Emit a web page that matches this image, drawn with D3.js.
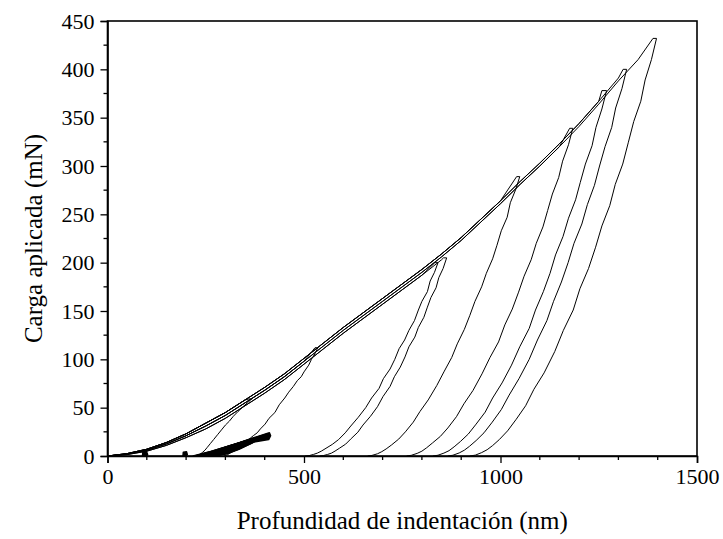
<!DOCTYPE html>
<html>
<head>
<meta charset="utf-8">
<script src="https://cdn.jsdelivr.net/npm/d3@7"></script>
<style>
  html, body { margin: 0; padding: 0; background: #fff; }
  svg { display: block; }
</style>
</head>
<body>
<svg id="chart" width="723" height="539"></svg>
<script>
// Axis ticks
const xMajorTicks = [0, 500, 1000, 1500];
const xMinorTicks = [100, 200, 300, 400, 600, 700, 800, 900, 1100, 1200, 1300, 1400];
const yMajorTicks = [0, 50, 100, 150, 200, 250, 300, 350, 400, 450];
const yMinorTicks = [25, 75, 125, 175, 225, 275, 325, 375, 425];

// Loading envelopes (depth nm -> load mN); individual tests follow one of these
const envDepth  = [0, 50, 100, 150, 200, 250, 300, 350, 400, 450, 500, 550, 600, 650, 700, 750, 800, 850, 900, 950, 1000, 1050, 1100, 1150, 1200, 1250, 1300, 1350, 1400];
const envUpper  = [0, 2.5, 7, 14, 23, 34, 45, 58, 71, 85, 101, 117, 133, 148, 163, 178, 193, 209, 226, 245, 264, 284, 303, 323, 344, 367, 391, 413, 435];
const envMiddle = [0, 2, 6, 12.5, 21, 31, 42, 55, 68, 82, 98, 114, 130, 145, 160, 175, 190, 206, 223, 242, 261, 281, 300, 320, 341, 364, 388, 410, 432];
const envLower  = [0, 1.5, 5, 11, 19, 28, 39, 52, 65, 79, 95, 111, 127, 142, 157, 172, 187, 203, 220, 239, 258, 278, 297, 317, 338, 361, 385, 407, 429];

// Hold at peak load followed by unloading, [depth nm, load mN]
const unloadA = [[360,59],[367,59],[356,55],[345,51],[332,46],[320,41],[310,36],[300,32],[290,27],[280,22],[270,17],[262,13],[254,9],[248,6],[241,3.5],[236,2],[231,0.7],[228,0]];
const unloadB = [[528,112],[535,112],[528,106],[519,100],[512,94],[500,87],[493,82],[483,78],[473,72],[461,66],[451,60],[437,53],[426,45],[411,39],[401,33],[389,28],[381,24],[371,21],[365,19],[354,15],[346,12],[334,8.5],[326,6],[314,3.5],[306,1.5],[296,0]];
const unload1 = [[833,200],[841,200],[832,190],[821,181],[814,170],[800,160],[791,151],[781,140],[767,130],[756,120],[742,111],[731,100],[719,90],[702,80],[691,70],[672,60],[657,50],[638,40],[619,31],[605,24],[588,17],[572,12],[556,8],[544,5],[534,3],[524,1.6],[513,0.4],[503,0]];
const unload2 = [[855,205],[863,205],[854,194],[843,184.5],[836,174],[823,164],[814,154],[805,143.5],[791,133],[782,123],[767,113],[757,102.5],[745,92],[730,82],[719,72],[701,61.5],[687,51],[669,41],[650,32],[637,24.6],[620,18],[606,12.3],[590,8],[579,5.1],[570,3],[560,1.6],[549,0.4],[540,0]];
const unload3 = [[1041,289],[1049,289],[1039,276],[1025,262],[1017,247],[1002,233],[991,218],[980,204],[964,189],[952,175],[935,160],[922,145.5],[908,131],[890,116],[876,102],[856,87],[838,73],[816,58],[795,46],[778,35],[758,25],[741,17.5],[723,11.5],[709,7.3],[698,4.5],[687,2.3],[673,0.6],[662,0]];
const unload4 = [[1176,339],[1184,339],[1173,322],[1158,305],[1148,288],[1132,271],[1120,254],[1108,237],[1091,220],[1078,203],[1060,186],[1046,169.5],[1030,152],[1011,135.6],[995,118],[973,101.7],[953,85],[930,67.8],[907,54],[888,40.7],[866,29],[847,20.3],[827,13.5],[812,8.5],[800,5],[788,2.7],[773,0.7],[761,0]];
const unload5 = [[1258,378],[1270,378],[1258,359],[1243,340],[1233,321],[1216,302],[1203,283],[1191,265],[1173,246],[1159,227],[1140,208],[1126,189],[1109,170],[1089,151],[1073,132],[1049,113],[1028,94],[1004,75.6],[980,60],[961,45.4],[938,33],[918,22.7],[898,15],[882,9.5],[869,5.5],[856,3],[841,0.8],[828,0]];
const unload6 = [[1312,400],[1321,400],[1309,380],[1293,360],[1283,340],[1266,320],[1252,300],[1239,280],[1221,260],[1207,240],[1187,220],[1172,200],[1155,180],[1135,160],[1118,140],[1094,120],[1073,100],[1047,80],[1022,63],[1002,48],[979,35],[958,24],[938,16],[921,10],[908,6],[895,3.2],[879,0.8],[866,0]];
const unload7 = [[1388,432],[1397,432],[1384,410],[1368,389],[1357,367],[1339,346],[1325,324],[1311,302],[1292,281],[1278,259],[1258,238],[1242,216],[1224,194],[1202,173],[1185,151],[1160,130],[1138,108],[1111,86],[1085,69],[1064,52],[1040,38],[1018,26],[997,17],[980,10.8],[966,6.5],[952,3.5],[936,0.9],[922,0]];

// Which loading envelope each test followed
const testEnvelopes = ["upper", "middle", "lower", "lower", "upper", "middle", "upper", "upper", "middle"];
const testUnloads   = [unloadA, unloadB, unload1, unload2, unload3, unload4, unload5, unload6, unload7];

// Low-load cycles near the surface
const cycle1 = [[218,0],[263,4.6],[308,10],[353,15.2],[398,20],[357,12],[319,6],[286,2],[255,0]];
const cycle2 = [[224,0],[269,4.9],[313,10.8],[358,16.3],[403,21.5],[362,12.9],[325,6.5],[292,2.1],[262,0]];
const cycle3 = [[230,0],[274,5.3],[319,11.5],[363,17.5],[408,23],[367,13.8],[331,6.9],[298,2.3],[268,0]];
const cycle4 = [[236,0],[280,5.5],[324,12],[368,18.2],[412,24],[415,21],[410,17],[372,14.4],[336,7.2],[304,2.4],[274,0]];
const cycle5 = [[222,0],[268,5.1],[313,11],[359,16.7],[405,22],[366,13.2],[330,6.6],[299,2.2],[270,0]];
const tiny1  = [[89,0],[90,4],[99,5],[102,1.5],[99,0]];
const tiny2  = [[192,0],[193,4],[201,4.5],[203,1.5],[200,0]];

const xTitle = "Profundidad de indentación (nm)";
const yTitle = "Carga aplicada (mN)";

const W = 723, H = 539;
const m = { left: 107.5, right: 26, top: 21, bottom: 83 };
const svg = d3.select("#chart");
svg.append("rect").attr("width", W).attr("height", H).attr("fill", "#fff");

const x = d3.scaleLinear().domain([0, 1500]).range([m.left, W - m.right]);
const y = d3.scaleLinear().domain([0, 450]).range([H - m.bottom, m.top]);

const font = "'Liberation Serif', 'Times New Roman', serif";

const line = d3.line().x(d => x(d[0])).y(d => y(d[1]));
const loop = d3.line().x(d => x(d[0])).y(d => y(d[1])).curve(d3.curveLinearClosed);
const plot = svg.append("g");

const envByName = { upper: envUpper, middle: envMiddle, lower: envLower };

testUnloads.forEach((unload, i) => {
  const env = envByName[testEnvelopes[i]];
  const holdStart = unload[0][0];
  const pts = [];
  envDepth.forEach((h, j) => { if (h < holdStart) pts.push([h, env[j]]); });
  unload.forEach(p => pts.push(p));
  plot.append("path")
    .attr("d", line(pts))
    .attr("fill", "none")
    .attr("stroke", "#000")
    .attr("stroke-width", 1)
    .attr("stroke-linejoin", "round");
});

[cycle1, cycle2, cycle3, cycle4, cycle5, tiny1, tiny2].forEach(c => {
  plot.append("path")
    .attr("d", loop(c))
    .attr("fill", "#000")
    .attr("stroke", "#000")
    .attr("stroke-width", 1.5)
    .attr("stroke-linejoin", "round");
});

// Frame
svg.append("rect")
  .attr("x", x(0)).attr("y", y(450))
  .attr("width", x(1500) - x(0)).attr("height", y(0) - y(450))
  .attr("fill", "none").attr("stroke", "#000").attr("stroke-width", 1.6);

// Bottom axis
const xAxis = svg.append("g").attr("transform", `translate(0,${y(0)})`)
  .call(d3.axisBottom(x).tickValues(xMajorTicks).tickSize(7).tickPadding(5).tickFormat(d3.format("d")));
svg.append("g").selectAll("line").data(xMinorTicks).join("line")
  .attr("x1", d => x(d)).attr("x2", d => x(d))
  .attr("y1", y(0)).attr("y2", y(0) + 4)
  .attr("stroke", "#000").attr("stroke-width", 1.3);

// Left axis
const yAxis = svg.append("g").attr("transform", `translate(${x(0)},0)`)
  .call(d3.axisLeft(y).tickValues(yMajorTicks).tickSize(7).tickPadding(6).tickFormat(d3.format("d")));
svg.append("g").selectAll("line").data(yMinorTicks).join("line")
  .attr("x1", x(0)).attr("x2", x(0) - 4)
  .attr("y1", d => y(d)).attr("y2", d => y(d))
  .attr("stroke", "#000").attr("stroke-width", 1.3);

[xAxis, yAxis].forEach(g => {
  g.attr("font-family", font);
  g.select(".domain").attr("stroke-width", 1.6);
  g.selectAll(".tick line").attr("stroke-width", 1.3);
  g.selectAll(".tick text").attr("font-family", font).attr("font-size", 22).attr("fill", "#000");
});

svg.append("text")
  .attr("x", (x(0) + x(1500)) / 2).attr("y", 529)
  .attr("text-anchor", "middle")
  .attr("font-family", font).attr("font-size", 25)
  .text(xTitle);

svg.append("text")
  .attr("transform", `translate(42,${(y(0) + y(450)) / 2}) rotate(-90)`)
  .attr("text-anchor", "middle")
  .attr("font-family", font).attr("font-size", 25)
  .text(yTitle);
</script>
</body>
</html>
